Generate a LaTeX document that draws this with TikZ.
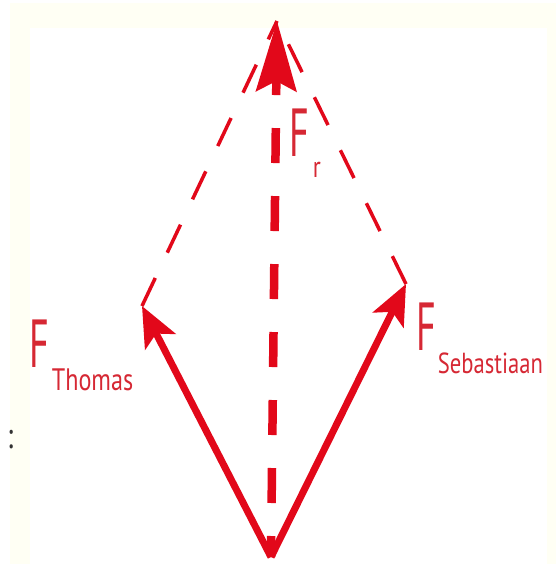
\documentclass[tikz,border=0pt]{standalone}
\usepackage{fontspec}
\usepackage{xcolor}
\usepackage{tikz}
\usetikzlibrary{arrows.meta, positioning}

\newfontfamily\bigFfont[FakeStretch=0.56]{PT Sans}
\newfontfamily\subFfont[FakeStretch=0.78]{PT Sans}
\definecolor{vecred}{RGB}{226,8,26}
\definecolor{lblred}{RGB}{214,40,52}
\definecolor{paper}{RGB}{255,255,244}

\begin{document}
\begin{tikzpicture}[
    x=1pt, y=-1pt,
    vec/.style={vecred, line width=7pt, -{Stealth[length=40pt, width=34pt, inset=9pt]}},
    sumvec/.style={vecred, line width=8.5pt, dash pattern=on 35pt off 33pt, dash phase=14pt,
        -{Stealth[length=70pt, width=40pt, inset=10pt]}},
    helper/.style={vecred, line width=3.5pt, dash pattern=on 31pt off 28pt},
    lbl/.style={lblred, inner sep=0pt, anchor=base west}
]
    \useasboundingbox (0,0) rectangle (558,564);
    \fill[white] (0,0) rectangle (558,564);
    \fill[paper] (10,3) rectangle (556,564);
    \fill[white] (30,28) rectangle (547,564);

    \coordinate (O) at (271,557);
    \coordinate (T) at (142,306);
    \coordinate (S) at (406,284);
    \coordinate (R) at (277,21);

    \draw[helper] (T) -- (R);
    \draw[helper] (S) -- (R);
    \draw[sumvec] (O) -- (R);
    \draw[vec] (O) -- (T);
    \draw[vec] (O) -- (S);

    \node[lbl] (fR) at (289,157) {{\bigFfont\fontsize{68}{68}\selectfont F}\kern4pt\raisebox{-21pt}{\subFfont\fontsize{30}{30}\selectfont r}};
    \node[lbl] (fT) at (29,367) {{\bigFfont\fontsize{68}{68}\selectfont F}\kern3pt\raisebox{-23pt}{\subFfont\fontsize{31}{31}\selectfont Thomas}};
    \node[lbl] (fS) at (416,350) {{\bigFfont\fontsize{68}{68}\selectfont F}\kern2pt\raisebox{-23pt}{\subFfont\fontsize{29}{29}\selectfont Sebastiaan}};

    \node[black!80, inner sep=0pt, anchor=base west] (dots) at (7,448) {\subFfont\fontsize{36}{36}\selectfont :};
\end{tikzpicture}
\end{document}
